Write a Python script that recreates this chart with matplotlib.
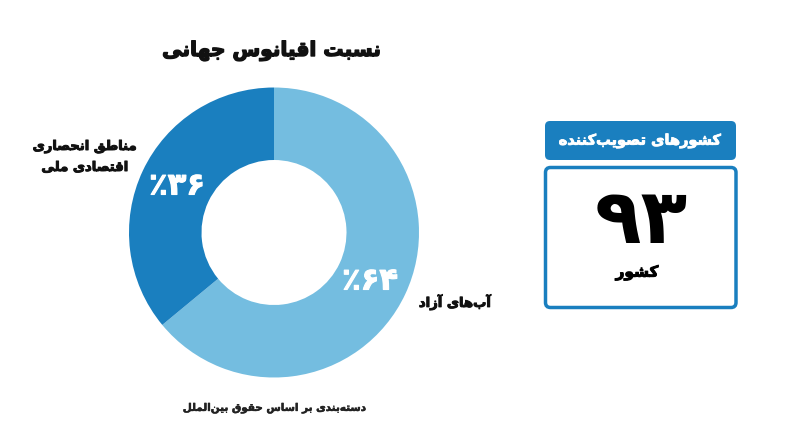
import matplotlib
matplotlib.use("Agg")
import matplotlib.pyplot as plt
import matplotlib.patheffects as pe
from matplotlib.patches import FancyBboxPatch

# data
slice_labels = ["آب‌های آزاد", "مناطق انحصاری\nاقتصادی ملی"]
slice_values = [64, 36]
slice_colors = ["#74bde0", "#1a7fbf"]
title = "نسبت اقیانوس جهانی"
footnote = "دسته‌بندی بر اساس حقوق بین‌الملل"
box_title = "کشورهای تصویب‌کننده"
box_value = 93
box_unit = "کشور"

# Arabic/Persian letter forms: (isolated, final, initial, medial)
FORMS = {
    "\u0622": (0xFE81, 0xFE82),
    "\u0627": (0xFE8D, 0xFE8E),
    "\u0628": (0xFE8F, 0xFE90, 0xFE91, 0xFE92),
    "\u067E": (0xFB56, 0xFB57, 0xFB58, 0xFB59),
    "\u062A": (0xFE95, 0xFE96, 0xFE97, 0xFE98),
    "\u062B": (0xFE99, 0xFE9A, 0xFE9B, 0xFE9C),
    "\u062C": (0xFE9D, 0xFE9E, 0xFE9F, 0xFEA0),
    "\u0686": (0xFB7A, 0xFB7B, 0xFB7C, 0xFB7D),
    "\u062D": (0xFEA1, 0xFEA2, 0xFEA3, 0xFEA4),
    "\u062E": (0xFEA5, 0xFEA6, 0xFEA7, 0xFEA8),
    "\u062F": (0xFEA9, 0xFEAA),
    "\u0630": (0xFEAB, 0xFEAC),
    "\u0631": (0xFEAD, 0xFEAE),
    "\u0632": (0xFEAF, 0xFEB0),
    "\u0698": (0xFB8A, 0xFB8B),
    "\u0633": (0xFEB1, 0xFEB2, 0xFEB3, 0xFEB4),
    "\u0634": (0xFEB5, 0xFEB6, 0xFEB7, 0xFEB8),
    "\u0635": (0xFEB9, 0xFEBA, 0xFEBB, 0xFEBC),
    "\u0636": (0xFEBD, 0xFEBE, 0xFEBF, 0xFEC0),
    "\u0637": (0xFEC1, 0xFEC2, 0xFEC3, 0xFEC4),
    "\u0638": (0xFEC5, 0xFEC6, 0xFEC7, 0xFEC8),
    "\u0639": (0xFEC9, 0xFECA, 0xFECB, 0xFECC),
    "\u063A": (0xFECD, 0xFECE, 0xFECF, 0xFED0),
    "\u0641": (0xFED1, 0xFED2, 0xFED3, 0xFED4),
    "\u0642": (0xFED5, 0xFED6, 0xFED7, 0xFED8),
    "\u06A9": (0xFB8E, 0xFB8F, 0xFB90, 0xFB91),
    "\u06AF": (0xFB92, 0xFB93, 0xFB94, 0xFB95),
    "\u0644": (0xFEDD, 0xFEDE, 0xFEDF, 0xFEE0),
    "\u0645": (0xFEE1, 0xFEE2, 0xFEE3, 0xFEE4),
    "\u0646": (0xFEE5, 0xFEE6, 0xFEE7, 0xFEE8),
    "\u0648": (0xFEED, 0xFEEE),
    "\u0647": (0xFEE9, 0xFEEA, 0xFEEB, 0xFEEC),
    "\u06CC": (0xFBFC, 0xFBFD, 0xFBFE, 0xFBFF),
}
FA_DIGITS = "۰۱۲۳۴۵۶۷۸۹"


def shape_line(text):
    out = []
    for i, c in enumerate(text):
        if c not in FORMS:
            out.append(c)
            continue
        prev = text[i - 1] if i > 0 else ""
        nxt = text[i + 1] if i + 1 < len(text) else ""
        join_prev = prev in FORMS and len(FORMS[prev]) == 4
        join_next = len(FORMS[c]) == 4 and nxt in FORMS
        f = FORMS[c]
        if join_prev and join_next:
            out.append(chr(f[3]))
        elif join_prev:
            out.append(chr(f[1]))
        elif join_next:
            out.append(chr(f[2]))
        else:
            out.append(chr(f[0]))
    # zwnj only breaks the joining, then goes away; reverse for rtl
    return "".join(out).replace("\u200c", "")[::-1]


def fa(text):
    return "\n".join(shape_line(line) for line in text.split("\n"))


def fa_num(n):
    return "".join(FA_DIGITS[int(d)] for d in str(n))


def heavy(color, w=0.7):
    # thicken the glyphs a little, the original font is heavier
    return [pe.withStroke(linewidth=w, foreground=color)]


plt.rcParams["font.family"] = ["DejaVu Sans"]

W, H = 800, 447
fig = plt.figure(figsize=(8, 4.47), dpi=100)
fig.patch.set_facecolor("white")

# donut
cx, cy, r = 274, 232.5, 145
pie_ax = fig.add_axes([(cx - r) / W, 1 - (cy + r) / H, 2 * r / W, 2 * r / H])
pie_ax.pie(slice_values, colors=slice_colors, startangle=90, counterclock=False,
           radius=1, wedgeprops=dict(width=0.5, linewidth=0))
pie_ax.set_xlim(-1, 1)
pie_ax.set_ylim(-1, 1)
pie_ax.axis("off")

# overlay axes in pixel coords, on top of the pie
bg = fig.add_axes([0, 0, 1, 1])
bg.set_xlim(0, W)
bg.set_ylim(H, 0)
bg.patch.set_alpha(0)
bg.axis("off")

# percentage labels
pct_pos = [(370, 281), (177, 186)]
for v, (x, y) in zip(slice_values, pct_pos):
    bg.text(x, y, "٪" + fa_num(v), color="white", fontsize=22, fontweight="bold",
            ha="center", va="center", path_effects=heavy("white", 0.8))

# category labels
bg.text(455, 302, fa(slice_labels[0]), fontsize=9.5, fontweight="bold",
        ha="center", va="center", color="#111111", path_effects=heavy("#111111"))
bg.text(85, 157, fa(slice_labels[1]), fontsize=9.5, fontweight="bold",
        ha="center", va="center", color="#111111", linespacing=1.8,
        path_effects=heavy("#111111"))

bg.text(272, 51, fa(title), fontsize=14.5, fontweight="bold",
        ha="center", va="center", color="#111111", path_effects=heavy("#111111", 1.0))
bg.text(274, 408, fa(footnote), fontsize=7.5, fontweight="bold",
        ha="center", va="center", color="#222222", path_effects=heavy("#222222", 0.4))

# stat box
blue = "#1a7fbf"
header = FancyBboxPatch((545, 121), 191, 39, boxstyle="round,pad=0,rounding_size=5",
                        facecolor=blue, edgecolor="none")
bg.add_patch(header)
body = FancyBboxPatch((545.5, 167.5), 190.5, 140, boxstyle="round,pad=0,rounding_size=5",
                      facecolor="white", edgecolor=blue, linewidth=2.5)
bg.add_patch(body)
bg.text(640, 141, fa(box_title), fontsize=10.5, fontweight="bold", color="white",
        ha="center", va="center", path_effects=heavy("white", 0.6))
bg.text(641, 222, fa_num(box_value), fontsize=55, fontweight="bold", color="black",
        ha="center", va="center")
bg.text(637, 273, fa(box_unit), fontsize=11, fontweight="bold", color="black",
        ha="center", va="center", path_effects=heavy("black"))

fig.savefig("out.png", dpi=100, facecolor="white")
